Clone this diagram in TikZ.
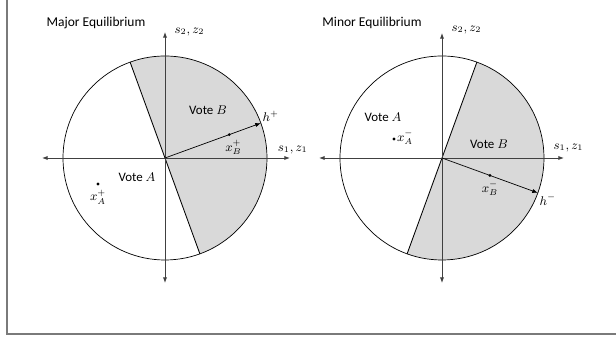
\documentclass[tikz,border=0pt]{standalone}
\usepackage{amsmath}
\usepackage{fontspec}
\setmainfont{Carlito}
\usetikzlibrary{arrows.meta}

\definecolor{votegray}{HTML}{D9D9D9}
\definecolor{framegray}{HTML}{7A7A7A}
\newcommand{\rad}{2.55}

\tikzset{
  axis/.style={{Latex[length=4pt,width=3pt]}-{Latex[length=4pt,width=3pt]}, line width=0.7pt, black!75},
  radius line/.style={-{Latex[length=4pt,width=3pt]}, line width=0.5pt},
  divider/.style={line width=0.6pt},
  lbl/.style={font=\fontsize{9.2}{11}\selectfont, inner sep=1pt},
  dot/.style={circle, fill, inner sep=0pt, minimum size=2.2pt},
}

\begin{document}
\begin{tikzpicture}
  \useasboundingbox (-4.125,-4.575) rectangle (11.275,3.95);

  % Frame
  \draw[framegray, line width=1.4pt] (-3.94,3.95) -- (-3.94,-4.4) -- (11.275,-4.4);

  %% Left panel: major equilibrium
  \begin{scope}
    \coordinate (O) at (0,0);
    % Vote B half
    \fill[votegray] (O) -- (-70:\rad) arc[start angle=-70, end angle=110, radius=\rad] -- cycle;
    \draw[line width=0.5pt] (O) circle (\rad);
    \draw[divider] (110:\rad) -- (290:\rad);

    % Axes
    \draw[axis] (-3.075,0) -- (3.125,0);
    \draw[axis] (0,-3.125) -- (0,3.15);
    \node[lbl, anchor=west] (s2l) at (0.2,3.15) {$s_2, z_2$};
    \node[lbl, anchor=west] (s1l) at (2.78,0.2) {$s_1, z_1$};

    % Normal h+ and ideal points
    \coordinate (hp) at (20:\rad);
    \draw[radius line] (O) -- (hp);
    \node[lbl, anchor=south west] (hpl) at (hp) {$h^{+}$};
    \node[dot] (xB) at (20:0.67*\rad) {};
    \node[lbl, anchor=north west, xshift=-4pt, yshift=-3pt] (xBl) at (xB) {$x_B^{+}$};
    \node[dot] (xA) at (-1.675,-0.65) {};
    \node[lbl, anchor=north, yshift=-3pt] (xAl) at (xA) {$x_A^{+}$};

    \node[lbl] (voteB) at (1.075,1.2) {Vote $B$};
    \node[lbl] (voteA) at (-0.7,-0.475) {Vote $A$};
    \node[lbl, font=\fontsize{9.6}{11}\selectfont] (title1) at (-1.725,3.375) {Major Equilibrium};
  \end{scope}

  %% Right panel: minor equilibrium
  \begin{scope}[xshift=6.925cm]
    \coordinate (O) at (0,0);
    % Vote B half
    \fill[votegray] (O) -- (-110:\rad) arc[start angle=-110, end angle=70, radius=\rad] -- cycle;
    \draw[line width=0.5pt] (O) circle (\rad);
    \draw[divider] (70:\rad) -- (250:\rad);

    % Axes
    \draw[axis] (-3.075,0) -- (3.05,0);
    \draw[axis] (0,-3.125) -- (0,3.125);
    \node[lbl, anchor=west] (s2r) at (0.2,3.2) {$s_2, z_2$};
    \node[lbl, anchor=west] (s1r) at (2.75,0.25) {$s_1, z_1$};

    % Normal h- and ideal points
    \coordinate (hm) at (-20:\rad);
    \draw[radius line] (O) -- (hm);
    \node[lbl, anchor=north west] (hml) at (hm) {$h^{-}$};
    \node[dot] (xBm) at (-20:0.5*\rad) {};
    \node[lbl, anchor=north, yshift=-3pt] (xBml) at (xBm) {$x_B^{-}$};
    \node[dot] (xAm) at (-1.2,0.475) {};
    \node[lbl, anchor=west, xshift=1pt, yshift=1pt] (xAml) at (xAm) {$x_A^{-}$};

    \node[lbl] (voteBm) at (1.175,0.35) {Vote $B$};
    \node[lbl] (voteAm) at (-1.475,1.025) {Vote $A$};
    \node[lbl, font=\fontsize{9.6}{11}\selectfont] (title2) at (-1.75,3.375) {Minor Equilibrium};
  \end{scope}
\end{tikzpicture}
\end{document}
